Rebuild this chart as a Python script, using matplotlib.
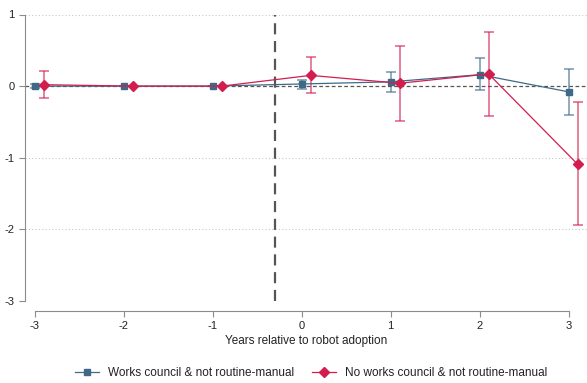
import matplotlib.pyplot as plt

plt.rcParams['font.family'] = ['Liberation Sans', 'DejaVu Sans']

# event-study estimates by year relative to robot adoption
years = [-3, -2, -1, 0, 1, 2, 3]

wc_coef = [0.0, 0.0, 0.0, 0.03, 0.06, 0.16, -0.08]
wc_lo = [-0.03, 0.0, 0.0, -0.04, -0.08, -0.06, -0.40]
wc_hi = [0.03, 0.0, 0.0, 0.08, 0.20, 0.39, 0.24]

nwc_coef = [0.02, 0.0, 0.0, 0.15, 0.04, 0.17, -1.09]
nwc_lo = [-0.16, 0.0, 0.0, -0.10, -0.48, -0.42, -1.94]
nwc_hi = [0.21, 0.0, 0.0, 0.40, 0.56, 0.76, -0.22]

y_ticks = [1, 0, -1, -2, -3]
x_shift = 0.1  # red series nudged right so bars do not overlap
treat_line = -0.3

blue = '#3e6a87'
red = '#d21e4f'
grey = '#8c8c8c'

fig = plt.figure(figsize=(5.87, 3.83), dpi=100)
ax = fig.add_axes([25 / 587, 82 / 383, 562 / 587, 286.5 / 383])

for y in [1, -1, -2]:
    ax.axhline(y, color='#c8c8c8', lw=0.8, ls=(0, (1, 2)), zorder=0)
ax.axhline(0, color='#555555', lw=0.9, ls=(0, (3, 2)), zorder=1)
ax.axvline(treat_line, color='#555555', lw=1.6, ls=(0, (5, 3)), zorder=1)


def plot_series(xs, coef, lo, hi, color, marker, ms, label):
    err = [[c - l for c, l in zip(coef, lo)], [h - c for c, h in zip(coef, hi)]]
    ax.errorbar(xs, coef, yerr=err, fmt='none', ecolor=color, alpha=0.65,
                elinewidth=1.2, capsize=3.5, capthick=1.2, zorder=2)
    ax.plot(xs, coef, '-', color=color, lw=0.9, marker=marker,
            markersize=ms, label=label, zorder=3)


plot_series(years, wc_coef, wc_lo, wc_hi, blue, 's', 5,
            'Works council & not routine-manual')
plot_series([x + x_shift for x in years], nwc_coef, nwc_lo, nwc_hi, red, 'D', 5,
            'No works council & not routine-manual')

ax.set_xlim(-3 - 9.7 / 89, 3 + 18.3 / 89)
ax.set_ylim(-3, 1)

for side in ['top', 'right']:
    ax.spines[side].set_visible(False)
ax.spines['left'].set_color(grey)
ax.spines['bottom'].set_color(grey)
ax.spines['bottom'].set_position(('outward', 7.2))
ax.spines['bottom'].set_bounds(-3, 3)
ax.spines['left'].set_bounds(-3, 1)

ax.set_xticks(years)
ax.set_xticklabels([str(x) for x in years])
ax.set_yticks(y_ticks)
ax.set_yticklabels([str(y) for y in y_ticks])
ax.tick_params(axis='both', colors=grey, length=4, width=0.8, labelsize=8,
               labelcolor='#222222')
ax.tick_params(axis='x', pad=3)
ax.set_xlabel('Years relative to robot adoption', fontsize=8.5, color='#222222',
              labelpad=3)

handles, labels = ax.get_legend_handles_labels()
fig.legend(handles, labels, loc='lower center', bbox_to_anchor=(0.53, -0.018),
           ncol=2, frameon=False, fontsize=8.5, handlelength=2.0,
           columnspacing=1.5, labelcolor='#222222')

fig.savefig('out.png', dpi=100)
